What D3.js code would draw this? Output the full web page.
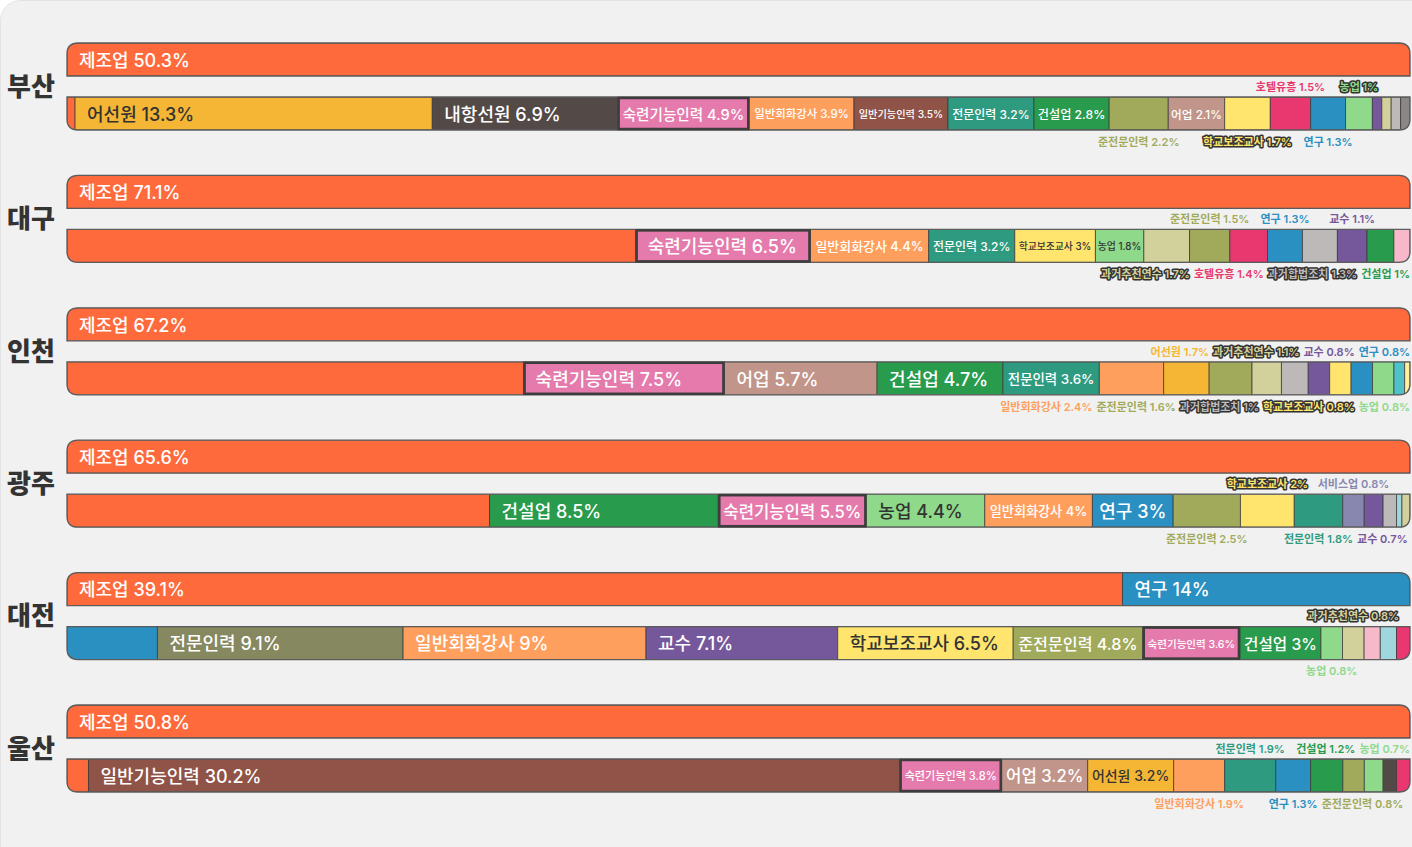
<!DOCTYPE html>
<html>
<head>
<meta charset="utf-8">
<script src="https://cdn.jsdelivr.net/npm/d3@7"></script>
<style>
  body { margin: 0; background: #fff; }
  svg { display: block; font-family: Inter, "Noto Sans CJK KR", sans-serif; }
</style>
</head>
<body>
<svg id="chart"></svg>
<script>
// data: share of each job category by city (%)
var busanJobs = ["제조업", "어선원", "내항선원", "숙련기능인력", "일반회화강사", "일반기능인력", "전문인력", "건설업", "준전문인력", "어업", "학교보조교사", "호텔유흥", "연구", "농업", "교수", "과거추천연수", "과거합법조치", "기타1"]
var busanShare = [50.3, 13.3, 6.9, 4.9, 3.9, 3.5, 3.2, 2.8, 2.2, 2.1, 1.7, 1.5, 1.3, 1, 0.35, 0.35, 0.35, 0.35]

var daeguJobs = ["제조업", "숙련기능인력", "일반회화강사", "전문인력", "학교보조교사", "농업", "과거추천연수", "준전문인력", "호텔유흥", "연구", "과거합법조치", "교수", "건설업", "기타2"]
var daeguShare = [71.1, 6.5, 4.4, 3.2, 3, 1.8, 1.7, 1.5, 1.4, 1.3, 1.3, 1.1, 1, 0.6]

var incheonJobs = ["제조업", "숙련기능인력", "어업", "건설업", "전문인력", "일반회화강사", "어선원", "준전문인력", "과거추천연수", "과거합법조치", "교수", "학교보조교사", "연구", "농업", "기타4", "기타5"]
var incheonShare = [67.2, 7.5, 5.7, 4.7, 3.6, 2.4, 1.7, 1.6, 1.1, 1, 0.8, 0.8, 0.8, 0.8, 0.4, 0.2]

var gwangjuJobs = ["제조업", "건설업", "숙련기능인력", "농업", "일반회화강사", "연구", "준전문인력", "학교보조교사", "전문인력", "서비스업", "교수", "과거합법조치", "기타3", "과거추천연수"]
var gwangjuShare = [65.6, 8.5, 5.5, 4.4, 4, 3, 2.5, 2, 1.8, 0.8, 0.7, 0.5, 0.2, 0.3]

var daejeonJobs = ["제조업", "연구", "전문인력", "일반회화강사", "교수", "학교보조교사", "준전문인력", "숙련기능인력", "건설업", "농업", "과거추천연수", "기타2", "기타3", "호텔유흥"]
var daejeonShare = [39.1, 14, 9.1, 9, 7.1, 6.5, 4.8, 3.6, 3, 0.8, 0.8, 0.6, 0.6, 0.5]

var ulsanJobs = ["제조업", "일반기능인력", "숙련기능인력", "어업", "어선원", "일반회화강사", "전문인력", "연구", "건설업", "준전문인력", "농업", "내항선원", "호텔유흥"]
var ulsanShare = [50.8, 30.2, 3.8, 3.2, 3.2, 1.9, 1.9, 1.3, 1.2, 0.8, 0.7, 0.5, 0.5]

var cities = [
  { name: "부산", jobs: busanJobs, share: busanShare },
  { name: "대구", jobs: daeguJobs, share: daeguShare },
  { name: "인천", jobs: incheonJobs, share: incheonShare },
  { name: "광주", jobs: gwangjuJobs, share: gwangjuShare },
  { name: "대전", jobs: daejeonJobs, share: daejeonShare },
  { name: "울산", jobs: ulsanJobs, share: ulsanShare }
]

// colours per category
var colors = {
  "제조업": "#ff6a3d", "어선원": "#f4b634", "내항선원": "#534a47", "숙련기능인력": "#e57bad",
  "일반회화강사": "#ff9f5e", "일반기능인력": "#8f5347", "전문인력": "#2e9b80", "건설업": "#289b4c",
  "준전문인력": "#a1aa5a", "어업": "#c19589", "학교보조교사": "#ffe46e", "호텔유흥": "#e8386f",
  "연구": "#2a8fc1", "농업": "#8ed98a", "교수": "#75589b", "과거추천연수": "#d3d19b",
  "과거합법조치": "#beb9b9", "서비스업": "#8787b0",
  "기타1": "#8c8784", "기타2": "#f7b8ca", "기타3": "#9fd7dc", "기타4": "#4ec1c9", "기타5": "#fff0a0"
}
var colorOverride = { "대전:전문인력": "#868860" }
var darkText = ["어선원", "학교보조교사", "농업"]
var haloKeys = ["학교보조교사", "과거추천연수", "과거합법조치", "부산:농업"]
var highlight = "숙련기능인력"

// layout
var svgWidth = 1412
var svgHeight = 847
var left = 67, right = 1410
var top0 = 43, groupStep = 132.4, rowH = 33, rowGap = 54, radius = 11

var svg = d3.select("#chart")
  .attr("width", svgWidth)
  .attr("height", svgHeight)

svg.append("rect")
  .attr("x", 0.5).attr("y", 0.5)
  .attr("width", 1500).attr("height", 1000)
  .attr("rx", 20)
  .attr("fill", "#f1f1f1")
  .attr("stroke", "#e3e3e3")

var defs = svg.append("defs")

function rowPath(xa, xb, ya, h, r, roundTop) {
  var yb = ya + h
  if (roundTop) {
    return `M${xa},${yb} L${xa},${ya + r} Q${xa},${ya} ${xa + r},${ya} L${xb - r},${ya} Q${xb},${ya} ${xb},${ya + r} L${xb},${yb} Z`
  }
  return `M${xa},${ya} L${xb},${ya} L${xb},${yb - r} Q${xb},${yb} ${xb - r},${yb} L${xa + r},${yb} Q${xa},${yb} ${xa},${yb - r} Z`
}

// scratch text for measuring
var measure = svg.append("text").attr("visibility", "hidden")
function textWidth(str, size, weight) {
  measure.attr("font-size", size).attr("font-weight", weight).text(str)
  return measure.node().getComputedTextLength()
}

cities.forEach((city, ci) => {
  var total = d3.sum(city.share)
  var half = total / 2
  var xScale = d3.scaleLinear().domain([0, half]).range([left, right])
  var rowY = [top0 + ci * groupStep, top0 + ci * groupStep + rowGap]
  var colorOf = job => colorOverride[city.name + ":" + job] || colors[job]

  // build segments and their pieces on the two rows
  var acc = 0
  var segs = city.jobs.map((job, i) => {
    var s = { job: job, v: city.share[i], a: acc, b: acc + city.share[i], i: i, pieces: [] }
    acc += city.share[i]
    for (var k = 0; k < 2; k++) {
      var lo = Math.max(s.a, k * half), hi = Math.min(s.b, (k + 1) * half)
      if (hi > lo + 1e-9) {
        s.pieces.push({ row: k, x: xScale(lo - k * half), w: xScale(hi - k * half) - xScale(lo - k * half) })
      }
    }
    return s
  })

  var g = svg.append("g")

  // city name
  g.append("text")
    .attr("x", 31)
    .attr("y", rowY[0] + rowH + (rowGap - rowH) / 2)
    .attr("dy", "0.36em")
    .attr("text-anchor", "middle")
    .attr("font-size", 26)
    .attr("font-weight", 800)
    .attr("fill", "#333")
    .text(city.name)

  for (var k = 0; k < 2; k++) {
    var id = "clip" + ci + "_" + k
    var d = rowPath(left, right, rowY[k], rowH, radius, k === 0)
    defs.append("clipPath").attr("id", id).append("path").attr("d", d)

    var rowG = g.append("g").attr("clip-path", `url(#${id})`)
    var pieces = []
    segs.forEach(s => s.pieces.filter(p => p.row === k).forEach(p => pieces.push({ s: s, p: p })))

    rowG.selectAll("rect")
      .data(pieces)
      .enter()
      .append("rect")
      .attr("x", d => d.p.x)
      .attr("y", rowY[k])
      .attr("width", d => d.p.w)
      .attr("height", rowH)
      .attr("fill", d => colorOf(d.s.job))
      .attr("stroke", "#3a3a3a")
      .attr("stroke-opacity", 0.75)
      .attr("stroke-width", 1)

    g.append("path")
      .attr("d", d)
      .attr("fill", "none")
      .attr("stroke", "#5c5c5c")
      .attr("stroke-width", 1.3)

    // highlighted category box
    pieces.filter(d => d.s.job === highlight).forEach(d => {
      g.append("rect")
        .attr("x", d.p.x + 1)
        .attr("y", rowY[k] + 1)
        .attr("width", d.p.w - 2)
        .attr("height", rowH - 2)
        .attr("fill", "none")
        .attr("stroke", "#3d3d3d")
        .attr("stroke-width", 2.5)
    })
  }

  // labels
  var outside = []
  segs.forEach(s => {
    var label = s.job + " " + s.v + "%"
    var best = s.pieces.reduce((m, p) => p.w > m.w ? p : m, s.pieces[0])
    var tw = textWidth(label, 18, 500)
    var fs = 18
    if (tw + 24 > best.w) {
      var pad = Math.min(5, best.w * 0.05)
      fs = Math.min(18, 18 * (best.w - 2 * pad) / tw)
    }
    if (fs >= 9.5) {
      var w = tw * fs / 18
      g.append("text")
        .attr("x", best.x + Math.min(12, (best.w - w) / 2))
        .attr("y", rowY[best.row] + rowH / 2 + 1)
        .attr("dy", "0.35em")
        .attr("font-size", fs)
        .attr("font-weight", 500)
        .attr("fill", darkText.includes(s.job) ? "#333" : "#fff")
        .text(label)
    } else if (s.v >= 0.7) {
      outside.push({ s: s, label: label, cx: best.x + best.w / 2, w: textWidth(label, 11, 600), row: best.row })
    }
  })

  // put each outside label below, or above when it would collide
  var lastBelow = null, lastAbove = null
  outside.forEach(o => {
    var ovB = lastBelow ? (lastBelow.cx + lastBelow.w / 2 + 2) - (o.cx - o.w / 2) : -1
    var ovA = lastAbove ? (lastAbove.cx + lastAbove.w / 2 + 2) - (o.cx - o.w / 2) : -1
    if (ovB <= 0 || ovB <= ovA) { o.side = "below"; lastBelow = o }
    else { o.side = "above"; lastAbove = o }
  })
  ;["below", "above"].forEach(side => {
    var list = outside.filter(o => o.side === side)
    list.forEach(o => { o.x = o.cx })
    for (var i = 1; i < list.length; i++) {
      var prev = list[i - 1], cur = list[i]
      var minX = prev.x + prev.w / 2 + 4 + cur.w / 2
      if (cur.x < minX) cur.x = minX
    }
    for (var j = list.length - 1; j >= 0; j--) {
      var lim = j === list.length - 1 ? svgWidth - 2 : list[j + 1].x - list[j + 1].w / 2 - 4
      if (list[j].x + list[j].w / 2 > lim) list[j].x = lim - list[j].w / 2
    }
  })

  outside.forEach(o => {
    var ry = rowY[o.row]
    var halo = haloKeys.includes(o.s.job) || haloKeys.includes(city.name + ":" + o.s.job)
    var t = g.append("text")
      .attr("x", o.x)
      .attr("y", o.side === "below" ? ry + rowH + 12 : ry - 10)
      .attr("dy", "0.35em")
      .attr("text-anchor", "middle")
      .attr("font-size", 11)
      .attr("font-weight", 600)
      .attr("fill", colorOf(o.s.job))
      .text(o.label)
    if (halo) {
      t.attr("stroke", "#333")
        .attr("stroke-width", 3)
        .attr("stroke-linejoin", "round")
        .attr("paint-order", "stroke")
    }
  })
})

measure.remove()
</script>
</body>
</html>
